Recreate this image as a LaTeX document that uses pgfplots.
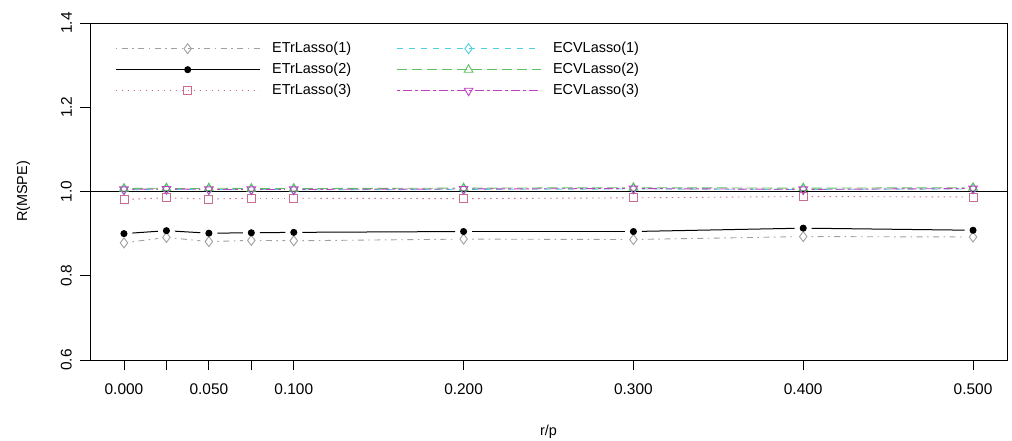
\documentclass[border=0pt]{standalone}
\usepackage{fontspec}
\setmainfont{Liberation Sans}
\usepackage{pgfplots}
\usepackage{pgfplotstable}
\pgfplotsset{compat=1.18}

\definecolor{cgray}{HTML}{A0A0A0}
\definecolor{cpink}{HTML}{CC6C8C}
\definecolor{ccyan}{HTML}{4FD0E0}
\definecolor{cgreen}{HTML}{5DBF5D}
\definecolor{cmag}{HTML}{C040C0}

% columns: x, y, u (dx to next point), v (dy to next point)
\pgfplotstableread{
x y u v
0 0.878 0.025 0.013
0.025 0.891 0.025 -0.010
0.05 0.881 0.025 0.003
0.075 0.884 0.025 -0.001
0.1 0.883 0.1 0.004
0.2 0.887 0.1 -0.001
0.3 0.886 0.1 0.007
0.4 0.893 0.1 -0.001
0.5 0.892 0 0
}\etrA
\pgfplotstableread{
x y u v
0 0.900 0.025 0.007
0.025 0.907 0.025 -0.006
0.05 0.901 0.025 0.001
0.075 0.902 0.025 0.001
0.1 0.903 0.1 0.002
0.2 0.905 0.1 0
0.3 0.905 0.1 0.008
0.4 0.913 0.1 -0.005
0.5 0.908 0 0
}\etrB
\pgfplotstableread{
x y u v
0 0.981 0.025 0.004
0.025 0.985 0.025 -0.003
0.05 0.982 0.025 0.002
0.075 0.984 0.025 0
0.1 0.984 0.1 -0.001
0.2 0.983 0.1 0.002
0.3 0.985 0.1 0.003
0.4 0.988 0.1 -0.001
0.5 0.987 0 0
}\etrC
\pgfplotstableread{
x y u v
0 1.004 0.025 0.001
0.025 1.005 0.025 0
0.05 1.005 0.025 -0.001
0.075 1.004 0.025 0
0.1 1.004 0.1 0.001
0.2 1.005 0.1 0.001
0.3 1.006 0.1 -0.001
0.4 1.005 0.1 0.001
0.5 1.006 0 0
}\ecvA
\pgfplotstableread{
x y u v
0 1.007 0.025 0.001
0.025 1.008 0.025 0
0.05 1.008 0.025 -0.001
0.075 1.007 0.025 0
0.1 1.007 0.1 0.001
0.2 1.008 0.1 0.001
0.3 1.009 0.1 -0.001
0.4 1.008 0.1 0.001
0.5 1.009 0 0
}\ecvB
\pgfplotstableread{
x y u v
0 1.005 0.025 0.001
0.025 1.006 0.025 -0.001
0.05 1.005 0.025 0
0.075 1.005 0.025 0
0.1 1.005 0.1 0.001
0.2 1.006 0.1 0.001
0.3 1.007 0.1 -0.002
0.4 1.005 0.1 0.002
0.5 1.007 0 0
}\ecvC

\pgfplotsset{
  seg/.style={forget plot, mark=none, line width=0.9bp,
    quiver={u=\thisrow{u}, v=\thisrow{v}},
    shorten <=8.5bp, shorten >=8.5bp,
    skip coords between index={8}{9}},
  leg/.style={legend image code/.code={
    \draw[##1, mark=none] (0bp,0bp) -- (144bp,0bp);
    \draw[##1, only marks] plot coordinates {(72bp,0bp)};}},
}

\begin{document}
\begin{tikzpicture}
\useasboundingbox (-90bp,-81bp) rectangle (922bp,360bp);
\begin{axis}[
  at={(0,0)}, anchor=south west,
  scale only axis, width=917bp, height=337bp,
  xmin=-0.02, xmax=0.52, ymin=0.6, ymax=1.4,
  axis line style={line width=0.9bp},
  xtick={0,0.025,0.05,0.075,0.1,0.2,0.3,0.4,0.5},
  xticklabels={0.000,,0.050,,0.100,0.200,0.300,0.400,0.500},
  ytick={0.6,0.8,1.0,1.2,1.4},
  yticklabels={0.6,0.8,1.0,1.2,1.4},
  xtick pos=left, ytick pos=left,
  tick align=outside, major tick length=10bp,
  tick style={black, line width=0.9bp},
  ticklabel style={font=\fontsize{15.5}{18}\selectfont, inner sep=0pt},
  xticklabel style={anchor=north},
  yticklabel style={rotate=90, anchor=south},
  xticklabel shift=14bp,
  yticklabel shift=8bp,
  xlabel={r/p}, ylabel={R(MSPE)},
  label style={font=\fontsize{14.5}{17}\selectfont},
  xlabel style={at={(axis description cs:0.5,-0.2226)}, anchor=base},
  ylabel style={at={(axis description cs:-0.0687,0.5)}, anchor=base, rotate=0},
  legend columns=2,
  legend style={draw=none, fill=none, at={(axis description cs:0.024,0.951)}, anchor=north west,
    font=\fontsize{14.5}{17}\selectfont,
    nodes={inner sep=0pt, text height=10.5bp, text depth=3.5bp},
    row sep=7bp, column sep=12bp,
    /tikz/every even column/.append style={column sep=45bp}},
  legend cell align=left,
]
\addplot[forget plot, black, line width=1bp] coordinates {(-0.02,1) (0.52,1)};

% line segments (drawn with gaps round the points, as R's type="b")
\addplot[seg, cgray, dash pattern=on 1.5bp off 4.5bp on 6bp off 4.5bp] table {\etrA};
\addplot[seg, ccyan, dash pattern=on 6bp off 6bp] table {\ecvA};
\addplot[seg, black, line width=1bp] table {\etrB};
\addplot[seg, cgreen, dash pattern=on 10.5bp off 4.5bp] table {\ecvB};
\addplot[seg, cpink, dash pattern=on 1.5bp off 4.5bp] table {\etrC};
\addplot[seg, cmag, dash pattern=on 3bp off 3bp on 9bp off 3bp] table {\ecvC};

% points
\addplot[cgray, line width=0.9bp, dash pattern=on 1.5bp off 4.5bp on 6bp off 4.5bp, only marks, leg,
  mark=diamond, mark size=5bp, mark options={solid, fill=white, line width=0.9bp}] table[x=x,y=y] {\etrA};
\addlegendentry{ETrLasso(1)}
\addplot[ccyan, line width=0.9bp, dash pattern=on 6bp off 6bp, only marks, leg,
  mark=diamond, mark size=5bp, mark options={solid, fill=none, line width=0.9bp}] table[x=x,y=y] {\ecvA};
\addlegendentry{ECVLasso(1)}
\addplot[black, line width=1bp, only marks, leg,
  mark=*, mark size=3bp, mark options={solid}] table[x=x,y=y] {\etrB};
\addlegendentry{ETrLasso(2)}
\addplot[cgreen, line width=0.9bp, dash pattern=on 10.5bp off 4.5bp, only marks, leg,
  mark=triangle, mark size=5bp, mark options={solid, fill=none, line width=0.9bp}] table[x=x,y=y] {\ecvB};
\addlegendentry{ECVLasso(2)}
\addplot[cpink, line width=0.9bp, dash pattern=on 1.5bp off 4.5bp, only marks, leg,
  mark=square, mark size=4bp, mark options={solid, fill=none, line width=0.9bp}] table[x=x,y=y] {\etrC};
\addlegendentry{ETrLasso(3)}
\addplot[cmag, line width=0.9bp, dash pattern=on 3bp off 3bp on 9bp off 3bp, only marks, leg,
  mark=triangle, mark size=5bp, mark options={solid, rotate=180, fill=none, line width=0.9bp}] table[x=x,y=y] {\ecvC};
\addlegendentry{ECVLasso(3)}
\end{axis}
\end{tikzpicture}
\end{document}
